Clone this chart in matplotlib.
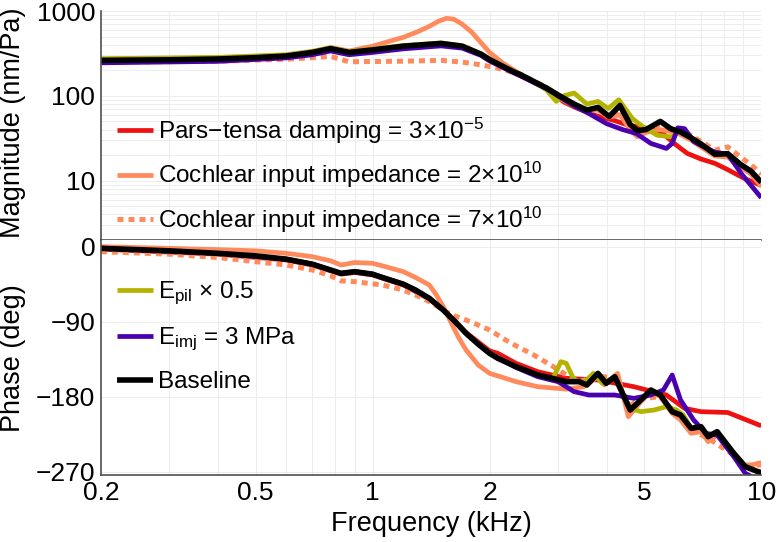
import numpy as np
import matplotlib
matplotlib.use("Agg")
import matplotlib.pyplot as plt
from matplotlib.ticker import FixedLocator, LogLocator, NullFormatter

plt.rcParams['font.family'] = ['Liberation Sans', 'DejaVu Sans']
plt.rcParams['mathtext.fontset'] = 'custom'
plt.rcParams['mathtext.rm'] = 'Liberation Sans'
plt.rcParams['mathtext.it'] = 'Liberation Sans:italic'
plt.rcParams['mathtext.bf'] = 'Liberation Sans:bold'

# ---- magnitude data (kHz, nm/Pa) ----
f_mag_base = [0.2, 0.3, 0.4, 0.5, 0.6, 0.7, 0.78, 0.87, 1.0, 1.2, 1.5, 1.7, 1.9, 2.0, 2.3, 2.4, 2.8,
              3.05, 3.3, 3.56, 3.8, 4.06, 4.33, 4.6, 4.8, 5.05, 5.5, 5.85, 6.2, 6.6, 7.0, 7.6, 8.2,
              8.85, 9.4, 10.0]
mag_base = [262, 266, 272, 282, 295, 325, 360, 325, 348, 385, 415, 385, 310, 268, 193, 178, 124,
            98, 80, 68, 73, 57, 77, 46, 39, 40, 50, 41, 37.5, 32, 27, 20.5, 20.8,
            15.5, 13, 9.6]

f_mag_pt = [0.2, 0.4, 0.6, 0.7, 0.78, 0.87, 1.0, 1.2, 1.5, 1.7, 1.9, 2.0, 2.3, 2.8, 3.1, 3.3, 3.77,
            4.2, 4.55, 5.0, 5.5, 5.8, 6.0, 6.45, 7.0, 7.6, 8.2, 8.6, 9.1, 10.0]
mag_pt = [258, 268, 290, 320, 355, 320, 342, 378, 408, 380, 305, 262, 190, 122, 85, 74, 58,
          51, 45, 42, 38, 31, 27, 21, 18, 16, 13.5, 12, 10.5, 8.8]

f_mag_ci2 = [0.2, 0.4, 0.6, 0.7, 0.78, 0.87, 1.0, 1.2, 1.3, 1.4, 1.48, 1.55, 1.62, 1.7, 1.8, 1.9,
             2.0, 2.16, 2.4, 2.8, 3.05, 3.3, 3.56, 3.8, 4.06, 4.33, 4.6, 4.8, 5.05, 5.5, 5.85, 6.2,
             6.6, 7.0, 7.6, 8.2, 8.85, 9.4, 10.0]
mag_ci2 = [270, 278, 300, 332, 372, 338, 385, 490, 565, 660, 760, 820, 800, 700, 562, 424,
           325, 245, 180, 120, 92, 76, 67, 68, 56, 60, 40, 33, 37, 40, 38, 35,
           30, 25, 19.5, 19, 14.5, 12, 8.6]

f_mag_ci7 = [0.2, 0.4, 0.6, 0.7, 0.78, 0.87, 1.0, 1.2, 1.5, 1.7, 1.9, 2.1, 2.4, 2.8, 3.05, 3.3,
             3.56, 3.8, 4.06, 4.33, 4.6, 4.8, 5.05, 5.5, 5.85, 6.2, 6.6, 7.0, 7.6, 8.2, 8.85, 9.4,
             10.0]
mag_ci7 = [250, 256, 270, 282, 292, 252, 254, 256, 262, 250, 232, 212, 180, 126, 96, 78,
           66, 70, 55, 66, 44, 37, 38, 46, 40, 39, 34, 29, 23, 25, 19, 15.5,
           12]

f_mag_pil = [0.2, 0.4, 0.6, 0.7, 0.78, 0.87, 1.0, 1.2, 1.5, 1.7, 1.9, 2.0, 2.3, 2.4, 2.8, 2.97,
             3.1, 3.3, 3.56, 3.8, 4.04, 4.3, 4.66, 4.97, 5.4, 5.9, 6.1, 6.2, 6.6, 7.0, 7.6, 8.2,
             8.85, 9.4, 10.0]
mag_pil = [274, 284, 305, 335, 368, 332, 355, 392, 420, 390, 315, 272, 196, 180, 118, 86,
           100, 108, 80, 86, 71, 90, 54, 43, 34.3, 32.8, 37.6, 37.5, 32, 27, 20.5, 20.8,
           15.5, 13, 9.6]

f_mag_imj = [0.2, 0.4, 0.6, 0.7, 0.78, 0.87, 1.0, 1.2, 1.5, 1.7, 1.9, 2.0, 2.3, 2.4, 2.8, 3.05,
             3.3, 3.6, 4.0, 4.4, 4.77, 5.2, 5.7, 5.9, 6.1, 6.35, 6.7, 7.0, 7.6, 8.2, 8.9, 10.0]
mag_imj = [245, 255, 280, 305, 338, 305, 325, 358, 388, 365, 300, 258, 188, 172, 122, 95,
           76, 62, 47, 40, 36, 27.5, 24, 27.5, 42, 41, 29, 26, 21.7, 20.5, 12, 6.3]

# ---- phase data (kHz, deg) ----
f_ph_base = [0.2, 0.3, 0.4, 0.5, 0.6, 0.7, 0.78, 0.83, 0.9, 1.0, 1.06, 1.2, 1.29, 1.4, 1.52, 1.64,
             1.74, 1.87, 2.0, 2.1, 2.34, 2.66, 2.9, 3.15, 3.4, 3.56, 3.8, 3.99, 4.2, 4.6, 4.9, 5.2,
             5.5, 5.9, 6.2, 6.6, 7.0, 7.3, 7.7, 8.5, 9.1, 9.8, 10.0]
ph_base = [-2, -5, -8, -11, -15, -21, -28, -32, -30, -33, -37, -45, -52, -62, -76, -91,
           -104, -117, -128, -134, -144, -154, -158, -162, -162, -166, -152, -164, -156, -196, -184, -172,
           -178, -198, -202, -218, -216, -228, -222, -248, -264, -270, -271]

f_ph_pt = [0.2, 0.4, 0.6, 0.7, 0.78, 0.83, 0.9, 1.0, 1.2, 1.4, 1.52, 1.74, 2.0, 2.1, 2.34, 2.66,
           3.15, 3.8, 4.7, 5.7, 6.35, 7.0, 8.2, 10.0]
ph_pt = [-3, -9, -16, -22, -29, -33, -31, -34, -46, -63, -76, -103, -125, -128, -140, -150,
         -158, -160, -168, -178, -194, -198, -199, -215]

f_ph_ci2 = [0.2, 0.3, 0.4, 0.5, 0.6, 0.7, 0.78, 0.83, 0.9, 1.0, 1.06, 1.2, 1.29, 1.4, 1.46, 1.52,
            1.58, 1.66, 1.74, 1.87, 2.0, 2.34, 2.66, 3.15, 3.5, 3.8, 3.95, 4.27, 4.55, 4.9, 5.2, 5.5,
            5.9, 6.2, 6.6, 7.0, 7.3, 7.7, 8.5, 9.1, 10.0]
ph_ci2 = [0, -2, -3.5, -5, -8, -12, -17, -22, -19, -20, -23, -30, -37, -46, -58, -72,
          -88, -108, -124, -142, -152, -162, -168, -171, -168, -156, -166, -152, -204, -186, -174, -180,
          -200, -208, -224, -222, -234, -226, -248, -264, -259]

f_ph_ci7 = [0.2, 0.3, 0.4, 0.5, 0.6, 0.7, 0.78, 0.83, 0.9, 1.06, 1.2, 1.29, 1.4, 1.52, 1.6, 1.74,
            1.87, 2.0, 2.2, 2.34, 2.6, 2.92, 3.05, 3.4, 3.8, 4.2, 4.6, 5.0, 5.5, 6.0, 6.6, 7.3,
            8.5, 9.1, 10.0]
ph_ci7 = [-6, -9, -13, -18, -22, -28, -35, -41, -42, -46, -52, -58, -66, -76, -82, -88,
          -94, -100, -112, -119, -130, -144, -150, -162, -155, -158, -190, -182, -180, -200, -220, -230,
          -250, -262, -262]

f_ph_pil = [0.2, 0.4, 0.6, 0.7, 0.78, 0.83, 0.9, 1.0, 1.2, 1.4, 1.52, 1.74, 2.0, 2.34, 2.66, 2.9,
            3.05, 3.15, 3.3, 3.5, 3.7, 3.9, 4.2, 4.6, 4.9, 5.3, 5.7, 6.05, 6.3, 6.6, 7.0, 7.3,
            7.7, 8.5, 9.1, 10.0]
ph_pil = [-2, -8, -15, -21, -28, -32, -30, -33, -45, -62, -76, -104, -128, -144, -154, -160,
          -138, -140, -160, -163, -152, -164, -156, -194, -198, -196, -192, -196, -202, -218, -216, -228,
          -222, -248, -264, -271]

f_ph_imj = [0.2, 0.4, 0.6, 0.7, 0.78, 0.83, 0.9, 1.0, 1.2, 1.4, 1.52, 1.74, 2.0, 2.34, 2.66, 3.0,
            3.3, 3.6, 4.2, 4.7, 5.2, 5.6, 5.9, 6.2, 6.7, 7.2, 7.7, 8.5, 9.1, 10.0]
ph_imj = [-2, -8, -15, -21, -28, -32, -30, -33, -45, -62, -76, -104, -128, -145, -156, -162,
          -174, -178, -178, -182, -178, -172, -154, -184, -208, -224, -226, -252, -272, -282]

red = '#ee1111'
salmon = '#ff8a5c'
olive = '#b3b300'
purple = '#4b00b0'

series = [
    # (mag f, mag, phase f, phase, colour, style, width, label, legend panel)
    (f_mag_pt, mag_pt, f_ph_pt, ph_pt, red, '-', 3.4,
     'Pars\u2212tensa damping = 3\u00d710$^{\u22125}$', 0),
    (f_mag_ci2, mag_ci2, f_ph_ci2, ph_ci2, salmon, '-', 3.4,
     'Cochlear input impedance = 2\u00d710$^{10}$', 0),
    (f_mag_ci7, mag_ci7, f_ph_ci7, ph_ci7, salmon, (0, (1.2, 1.0)), 3.6,
     'Cochlear input impedance = 7\u00d710$^{10}$', 0),
    (f_mag_pil, mag_pil, f_ph_pil, ph_pil, olive, '-', 3.4,
     'E$_{\\mathrm{pil}}$ \u00d7 0.5', 1),
    (f_mag_imj, mag_imj, f_ph_imj, ph_imj, purple, '-', 3.4,
     'E$_{\\mathrm{imj}}$ = 3 MPa', 1),
    (f_mag_base, mag_base, f_ph_base, ph_base, 'black', '-', 4.0,
     'Baseline', 1),
]

fig = plt.figure(figsize=(7.76, 5.42), dpi=100)
ax_m = fig.add_axes([0.130, 0.5572, 0.851, 0.4225])
ax_p = fig.add_axes([0.130, 0.1236, 0.851, 0.4336])

handles = [[], []]
for fm, m, fp, p, c, ls, lw, lab, panel in series:
    ln, = ax_m.plot(fm, m, color=c, ls=ls, lw=lw, label=lab,
                    solid_capstyle='butt', solid_joinstyle='round')
    ax_p.plot(fp, p, color=c, ls=ls, lw=lw, solid_capstyle='butt', solid_joinstyle='round')
    handles[panel].append(ln)

xticks = [0.2, 0.5, 1, 2, 5, 10]
for ax in (ax_m, ax_p):
    ax.set_xscale('log')
    ax.set_xlim(0.2, 10)
    ax.xaxis.set_major_locator(FixedLocator(xticks))
    ax.xaxis.set_minor_locator(LogLocator(base=10, subs=np.arange(2, 10)))
    ax.xaxis.set_minor_formatter(NullFormatter())
    ax.grid(True, which='both', color='#ededed', lw=0.7)
    ax.set_axisbelow(True)
    ax.tick_params(which='both', length=0, labelsize=19, pad=4)
    ax.spines['top'].set_visible(False)
    ax.spines['right'].set_visible(False)
    for s in ('left', 'bottom'):
        ax.spines[s].set_color('#505050')
        ax.spines[s].set_linewidth(1.2)

ax_m.set_yscale('log')
ax_m.set_ylim(2, 1000)
ax_m.set_yticks([10, 100, 1000])
ax_m.set_yticklabels(['10', '100', '1000'])
ax_m.yaxis.set_minor_formatter(NullFormatter())
ax_m.set_xticklabels([])

ax_p.set_ylim(-274, 8)
ax_p.set_yticks([0, -90, -180, -270])
ax_p.set_yticklabels(['0', '\u221290', '\u2212180', '\u2212270'])
ax_p.yaxis.set_minor_locator(FixedLocator([]))
ax_p.set_xticklabels(['0.2', '0.5', '1', '2', '5', '10'])

leg_kw = dict(frameon=False, fontsize=17.5, handlelength=1.5, handletextpad=0.2,
              borderaxespad=0, borderpad=0, loc='upper left')
ax_m.legend(handles=handles[0], labelspacing=0.58, bbox_to_anchor=(0.024, 0.542), **leg_kw)
ax_p.legend(handles=handles[1], labelspacing=0.75, bbox_to_anchor=(0.024, 0.83), **leg_kw)

fig.text(0.017, 0.773, 'Magnitude (nm/Pa)', rotation=90, ha='center', va='center', fontsize=19.5)
fig.text(0.017, 0.340, 'Phase (deg)', rotation=90, ha='center', va='center', fontsize=19.5)
fig.text(0.5555, 0.034, 'Frequency (kHz)', ha='center', va='center', fontsize=19.5)

fig.savefig('out.png', dpi=100)
